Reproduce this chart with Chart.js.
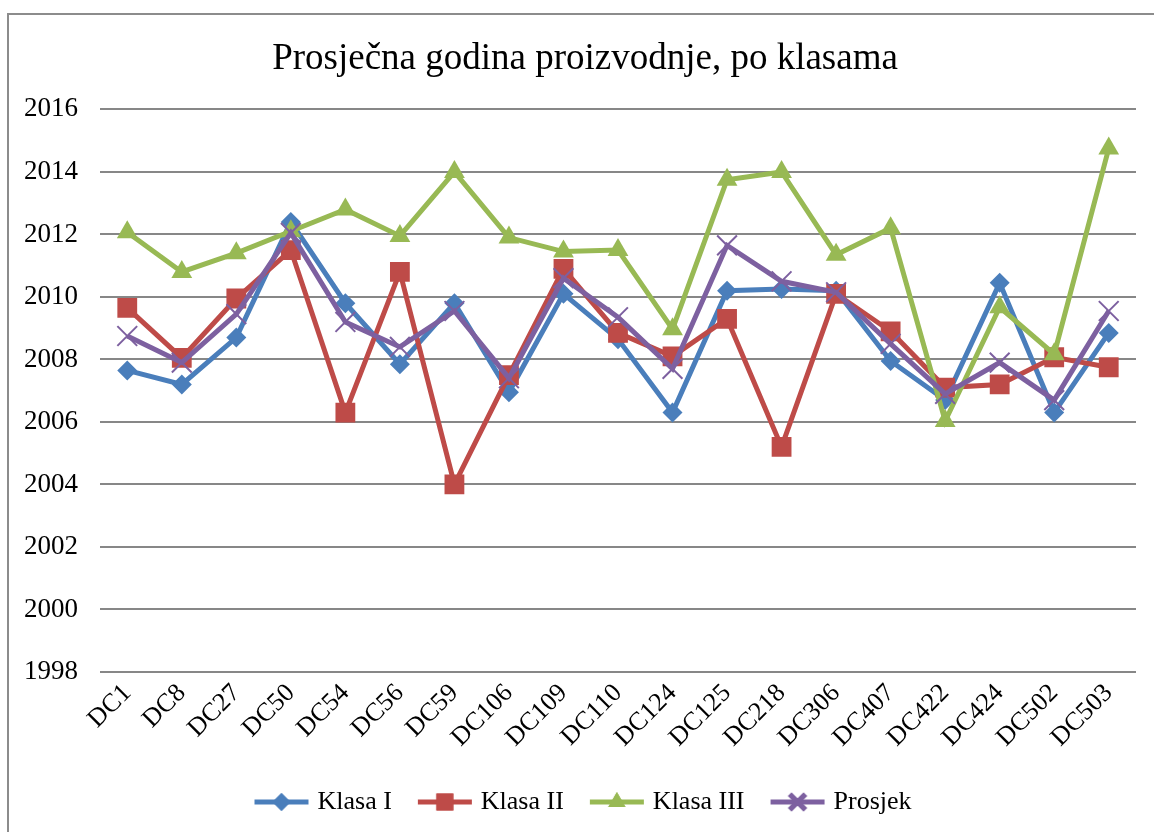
<!DOCTYPE html>
<html>
<head>
<meta charset="utf-8">
<script src="https://cdn.jsdelivr.net/npm/chart.js@4/dist/chart.umd.min.js"></script>
<style>
  html, body { margin: 0; padding: 0; background: #fff; overflow: hidden; }
  #frame { position: absolute; left: 7px; top: 13px; width: 2000px; height: 2000px;
           border-left: 2px solid #8c8c8c; border-top: 2px solid #8c8c8c; }
  #wrap { position: absolute; left: 0; top: 0; width: 1154px; height: 832px; }
</style>
</head>
<body>
<div id="frame"></div>
<div id="wrap"><canvas id="godine"></canvas></div>
<script>
var categories = ['DC1','DC8','DC27','DC50','DC54','DC56','DC59','DC106','DC109','DC110',
                  'DC124','DC125','DC218','DC306','DC407','DC422','DC424','DC502','DC503'];

var klasaI   = [2007.65, 2007.2, 2008.7, 2012.4, 2009.8, 2007.85, 2009.8, 2006.95, 2010.1, 2008.65,
                2006.3, 2010.2, 2010.25, 2010.2, 2007.95, 2006.7, 2010.45, 2006.3, 2008.85];
var klasaII  = [2009.65, 2008.05, 2009.95, 2011.5, 2006.3, 2010.8, 2004.0, 2007.5, 2010.9, 2008.85,
                2008.1, 2009.3, 2005.2, 2010.1, 2008.9, 2007.1, 2007.2, 2008.07, 2007.75];
var klasaIII = [2012.07, 2010.8, 2011.4, 2012.1, 2012.8, 2011.95, 2014.0, 2011.9, 2011.45, 2011.5,
                2008.97, 2013.75, 2014.0, 2011.35, 2012.2, 2006.03, 2009.67, 2008.17, 2014.75];
var prosjek  = [2008.75, 2007.9, 2009.45, 2012.05, 2009.2, 2008.4, 2009.55, 2007.4, 2010.6, 2009.35,
                2007.7, 2011.65, 2010.5, 2010.15, 2008.5, 2006.9, 2007.9, 2006.7, 2009.55];

var yMin = 1998, yMax = 2016, yStep = 2;

var serif = "'Times New Roman', 'Liberation Serif', serif";

// legend icon: short line with the marker in the middle, like Excel
function legendIcon(color, style, radius, markerWidth) {
    var c = document.createElement('canvas');
    c.width = 62; c.height = 26;
    var ctx = c.getContext('2d');
    ctx.strokeStyle = color;
    ctx.lineWidth = 5;
    ctx.beginPath();
    ctx.moveTo(4, 13);
    ctx.lineTo(58, 13);
    ctx.stroke();
    ctx.fillStyle = color;
    Chart.helpers.drawPoint(ctx, {pointStyle: style, radius: radius, borderWidth: markerWidth, rotation: 0}, 31, 13);
    if (style === 'crossRot') { ctx.stroke(); } else { ctx.fill(); }
    return c;
}

var series = [
    {label: 'Klasa I',   data: klasaI,   color: '#4A7EBB', style: 'rectRot',  r: 10, icon: 9},
    {label: 'Klasa II',  data: klasaII,  color: '#BE4B48', style: 'rect',     r: 14, icon: 12},
    {label: 'Klasa III', data: klasaIII, color: '#98B954', style: 'triangle', r: 12, icon: 10},
    {label: 'Prosjek',   data: prosjek,  color: '#7D60A0', style: 'crossRot', r: 14, icon: 11}
];

var datasets = series.map(function (s, i) {
    return {
        label: s.label,
        data: s.data,
        borderColor: s.color,
        backgroundColor: s.color,
        borderWidth: 5,
        pointStyle: s.style,
        pointRadius: s.r,
        pointBorderWidth: s.style === 'crossRot' ? 2 : 0,
        pointBorderColor: s.color,
        pointBackgroundColor: s.color,
        tension: 0,
        order: series.length - i
    };
});

var chart = new Chart(document.getElementById('godine'), {
    type: 'line',
    data: { labels: categories, datasets: datasets },
    options: {
        responsive: true,
        maintainAspectRatio: false,
        animation: false,
        // left padding so the title and legend sit centred in the frame, not the canvas
        layout: { padding: { left: 16, right: 0, top: 0, bottom: 7 } },
        plugins: {
            tooltip: { enabled: false },
            title: {
                display: true,
                text: 'Prosječna godina proizvodnje, po klasama',
                color: '#000',
                font: { family: serif, size: 37, weight: 'normal', lineHeight: 1.2 },
                padding: { top: 37, bottom: 28 }
            },
            legend: {
                display: true,
                position: 'bottom',
                labels: {
                    usePointStyle: true,
                    pointStyleWidth: 46,
                    boxHeight: 24,
                    padding: 30,
                    color: '#000',
                    font: { family: serif, size: 26 },
                    generateLabels: function (ch) {
                        return series.map(function (s, i) {
                            return {
                                text: s.label,
                                pointStyle: legendIcon(s.color, s.style, s.icon, s.style === 'crossRot' ? 2 : 0),
                                fillStyle: s.color,
                                strokeStyle: s.color,
                                lineWidth: 0,
                                fontColor: '#000',
                                hidden: false,
                                datasetIndex: i
                            };
                        });
                    }
                }
            }
        },
        scales: {
            x: {
                offset: true,
                grid: { display: false },
                border: { display: false },
                ticks: {
                    color: '#000',
                    font: { family: serif, size: 26 },
                    minRotation: 45,
                    maxRotation: 45,
                    autoSkip: false,
                    padding: -2
                },
                afterFit: function (scale) { scale.height = 87; }
            },
            y: {
                min: yMin,
                max: yMax,
                border: { display: false },
                grid: { color: '#878787', lineWidth: 2, drawTicks: false },
                ticks: {
                    stepSize: yStep,
                    color: '#000',
                    padding: 22,
                    font: { family: serif, size: 27 },
                    callback: function (v) { return String(v); }
                },
                afterFit: function (scale) { scale.width = 84; }
            },
            // empty strip on the right, keeps the plot ending where Excel's does
            yRight: {
                position: 'right',
                min: yMin,
                max: yMax,
                grid: { display: false },
                border: { display: false },
                ticks: { display: false },
                afterFit: function (scale) { scale.width = 18; }
            }
        }
    }
});
</script>
</body>
</html>
